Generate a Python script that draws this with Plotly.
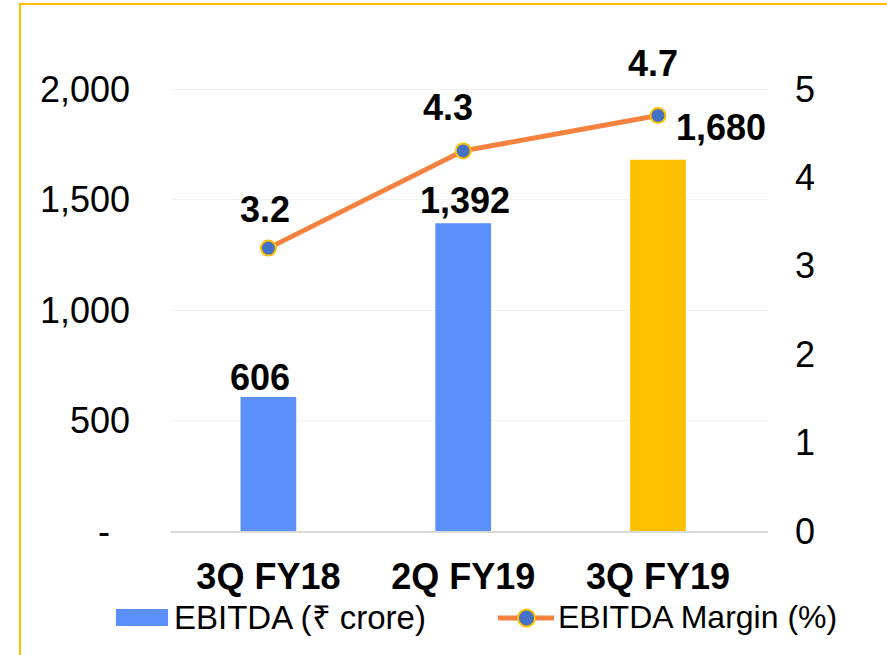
import plotly.graph_objects as go

categories = ["3Q FY18", "2Q FY19", "3Q FY19"]
ebitda = [606, 1392, 1680]
ebitda_text = ["606", "1,392", "1,680"]
margin = [3.2, 4.3, 4.7]
margin_text = ["3.2", "4.3", "4.7"]
bar_colors = ["#5B8FF9", "#5B8FF9", "#FFC000"]
left_tickvals = [0, 500, 1000, 1500, 2000]
left_ticktext = ["-\u00a0\u00a0", "500", "1,000", "1,500", "2,000"]
right_tickvals = [0, 1, 2, 3, 4, 5]
right_ticktext = ["0", "1", "2", "3", "4", "5"]
legend_names = ["EBITDA (₹ crore)", "EBITDA Margin (%)"]

FONT = "Arial, Liberation Sans, sans-serif"
BLUE = "#5B8FF9"
ORANGE = "#F7823F"
GOLD = "#FFC000"
MARK = "#4472C4"

W, H = 887, 655
L, R, T, B = 171, 119, 20, 124
pw = W - L - R
plot_h = H - T - B
px_2000 = 442
ymax_left = 2000 * plot_h / px_2000
ymax_right = 5 * plot_h / px_2000


def px(xp):
    return (xp - L) / pw


def py(yp):
    return (H - B - yp) / plot_h


fig = go.Figure()
fig.add_trace(go.Bar(
    x=categories, y=ebitda, name=legend_names[0],
    marker=dict(color=bar_colors, line=dict(width=0)),
    width=0.286, yaxis="y", showlegend=False,
))
fig.add_trace(go.Scatter(
    x=categories, y=margin, name=legend_names[1], yaxis="y2",
    mode="lines+markers", showlegend=False,
    line=dict(color=ORANGE, width=5),
    marker=dict(color=MARK, size=15, line=dict(color=GOLD, width=2)),
))

bar_shifts = [(-8, 20), (2, 23), (63, 32)]
for c, v, t, (dx, dy) in zip(categories, ebitda, ebitda_text, bar_shifts):
    fig.add_annotation(x=c, y=v, yref="y", text=f"<b>{t}</b>", showarrow=False,
                       xshift=dx, yshift=dy, yanchor="middle",
                       font=dict(family=FONT, size=36, color="black"))
line_shifts = [(-3, 39), (-15, 43), (-5, 52)]
for c, v, t, (dx, dy) in zip(categories, margin, margin_text, line_shifts):
    fig.add_annotation(x=c, y=v, yref="y2", text=f"<b>{t}</b>", showarrow=False,
                       xshift=dx, yshift=dy, yanchor="middle",
                       font=dict(family=FONT, size=36, color="black"))

# frame
fig.add_shape(type="rect", xref="paper", yref="paper",
              x0=px(20), x1=px(W + 20), y0=py(H + 20), y1=py(4),
              line=dict(color=GOLD, width=2), fillcolor="rgba(0,0,0,0)",
              layer="below")

# legend (drawn)
fig.add_shape(type="rect", xref="paper", yref="paper",
              x0=px(116), x1=px(168), y0=py(626), y1=py(609),
              line=dict(width=0), fillcolor=BLUE)
fig.add_annotation(xref="paper", yref="paper", x=px(172), y=py(617),
                   xanchor="left", yanchor="middle", showarrow=False,
                   text=legend_names[0], font=dict(family=FONT, size=33, color="black"))
fig.add_shape(type="line", xref="paper", yref="paper",
              x0=px(498), x1=px(554), y0=py(618), y1=py(618),
              line=dict(color=ORANGE, width=5))
fig.add_shape(type="circle", xref="paper", yref="paper",
              x0=px(518), x1=px(535), y0=py(626.5), y1=py(609.5),
              line=dict(color=GOLD, width=2), fillcolor=MARK)
fig.add_annotation(xref="paper", yref="paper", x=px(556), y=py(617),
                   xanchor="left", yanchor="middle", showarrow=False,
                   text=legend_names[1], font=dict(family=FONT, size=32, color="black"))

fig.update_layout(
    width=W, height=H,
    margin=dict(l=L, r=R, t=T, b=B, autoexpand=False),
    paper_bgcolor="white", plot_bgcolor="white",
    font=dict(family=FONT, color="black"),
    showlegend=False,
    xaxis=dict(showline=True, linecolor="#D9D9D9", linewidth=2, ticks="",
               tickfont=dict(family=FONT, size=36, color="black", weight="bold"),
               ticklabelstandoff=13, showgrid=False),
    yaxis=dict(range=[0, ymax_left], tickvals=left_tickvals, ticktext=left_ticktext,
               tickfont=dict(family=FONT, size=36, color="black"),
               showgrid=True, gridcolor="#F2F2F2", gridwidth=1, zeroline=False,
               showline=False, ticks="", ticklabelstandoff=40),
    yaxis2=dict(range=[0, ymax_right], tickvals=right_tickvals, ticktext=right_ticktext,
                overlaying="y", side="right", showgrid=False, zeroline=False,
                tickfont=dict(family=FONT, size=36, color="black"),
                showline=False, ticks="", ticklabelstandoff=26),
    bargap=0.71,
)

fig.write_html("out.html", config={"displayModeBar": False},
               post_script="document.body.style.margin='0';")
